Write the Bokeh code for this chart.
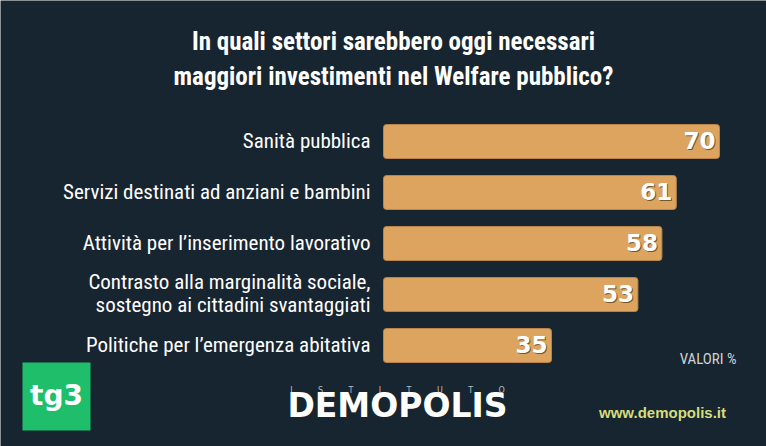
from bokeh.plotting import figure
from bokeh.models import Range1d, Label, BoxAnnotation, ColumnDataSource
from bokeh.core.properties import value
from bokeh.embed import file_html
from bokeh.resources import INLINE

# ---- data ----
categories = [
    "Sanità pubblica",
    "Servizi destinati ad anziani e bambini",
    "Attività per l\u2019inserimento lavorativo",
    "Contrasto alla marginalità sociale,\nsostegno ai cittadini svantaggiati",
    "Politiche per l\u2019emergenza abitativa",
]
values = [70, 61, 58, 53, 35]
value_labels = [str(v) for v in values]
title_lines = [
    "In quali settori sarebbero oggi necessari",
    "maggiori investimenti nel Welfare pubblico?",
]
unit_note = "VALORI %"
source_text = "www.demopolis.it"

COND = "'Roboto Condensed', 'Liberation Sans Narrow', sans-serif"
BOLD_WIDE = "'DejaVu Sans', 'Verdana', sans-serif"
ARIAL = "'Liberation Sans', Arial, sans-serif"
BG = "#172530"
BAR = "#DCA45F"

n = len(categories)
ypos = [n - 1 - i for i in range(n)]

src = ColumnDataSource(dict(y=ypos, v=values, cat=categories, lab=value_labels,
                            zero=[0] * n))

p = figure(width=766, height=446, output_backend="svg", toolbar_location=None,
           x_range=Range1d(-79.79, 79.79), y_range=Range1d(-1.98, 6.765),
           min_border=0, background_fill_color=BG, border_fill_color=BG,
           outline_line_color=None)
p.axis.visible = False
p.grid.visible = False

p.hbar(y="y", left="zero", right="v", height=0.667, source=src,
       fill_color=BAR, line_color="#b9844a", line_width=1, border_radius=3)

# category labels
p.text(x="zero", y="y", text="cat", source=src, x_offset=-13, y_offset=-1,
       text_align="right", text_baseline="middle", text_color="white",
       text_font=value(COND), text_font_size="21px", text_line_height=0.95)

# value labels with shadow
p.text(x="v", y="y", text="lab", source=src, x_offset=-3, y_offset=0,
       text_align="right", text_baseline="middle", text_color="#4a3212",
       text_alpha=0.7, text_font=value(BOLD_WIDE), text_font_style="bold",
       text_font_size="23px")
p.text(x="v", y="y", text="lab", source=src, x_offset=-4, y_offset=-1,
       text_align="right", text_baseline="middle", text_color="white",
       text_font=value(BOLD_WIDE), text_font_style="bold", text_font_size="23px")

# title
for i, line in enumerate(title_lines):
    p.add_layout(Label(x=393, y=405 - 34.5 * i, x_units="screen", y_units="screen",
                       text=line, text_align="center", text_baseline="middle",
                       text_color="white", text_font=COND, text_font_style="bold",
                       text_font_size="25px"))

# unit note
p.add_layout(Label(x=736, y=88, x_units="screen", y_units="screen", text=unit_note,
                   text_align="right", text_baseline="middle", text_color="#cfd3d6",
                   text_font=COND, text_font_size="15px"))

# tg3 logo
p.add_layout(BoxAnnotation(left=22, right=90, bottom=16, top=84,
                           left_units="screen", right_units="screen",
                           bottom_units="screen", top_units="screen",
                           fill_color="#1fbe6a", fill_alpha=1, line_color=None))
p.add_layout(Label(x=56, y=51, x_units="screen", y_units="screen", text="tg3",
                   text_align="center", text_baseline="middle", text_color="white",
                   text_font="'DejaVu Sans', sans-serif", text_font_style="bold",
                   text_font_size="28px"))

# DEMOPOLIS logo
nb = "\u00a0" * 10
p.add_layout(Label(x=397, y=56, x_units="screen", y_units="screen",
                   text=nb.join("ISTITUTO"),
                   text_align="center", text_baseline="middle", text_color="#b8bcc0",
                   text_font="'DejaVu Sans', sans-serif", text_font_size="8px"))
p.add_layout(Label(x=397, y=41, x_units="screen", y_units="screen", text="DEMOPOLIS",
                   text_align="center", text_baseline="middle", text_color="white",
                   text_font=BOLD_WIDE, text_font_style="bold", text_font_size="33px"))

p.add_layout(Label(x=662, y=34, x_units="screen", y_units="screen", text=source_text,
                   text_align="center", text_baseline="middle", text_color="#d6dc7c",
                   text_font=ARIAL, text_font_style="bold", text_font_size="15px"))

open("out.html", "w").write(file_html(p, INLINE))
